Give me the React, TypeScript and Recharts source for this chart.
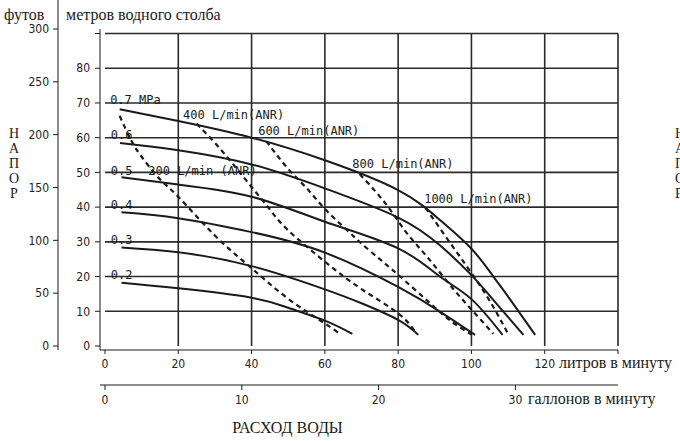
import { LineChart, Line, XAxis, YAxis, ReferenceLine, ReferenceDot } from "recharts";

// axes (L/min, US gal/min, metres of water, feet)
const litreTicks = [0, 20, 40, 60, 80, 100, 120, 140];
const gallonTicks = [0, 10, 20, 30];
const metreTicks = [0, 10, 20, 30, 40, 50, 60, 70, 80, 90];
const feetTicks = [0, 50, 100, 150, 200, 250, 300];
const gridMetres = [10, 20, 30, 40, 50, 60, 70, 80, 90];
const gridLitres = [20, 40, 60, 80, 100, 120, 140];

// constant air pressure curves [flow L/min, head m]
const p02 = [[4.5, 18.2], [20, 16.6], [40, 13.9], [50, 11.0], [60, 7.3], [67.5, 3.5]];
const p03 = [[4.5, 28.4], [20, 27.0], [40, 23.0], [60, 16.3], [70, 12.3], [80, 7.5], [85.5, 3.2]];
const p04 = [[4.5, 38.5], [20, 36.8], [40, 32.8], [60, 26.9], [80, 17.0], [91.4, 9.9], [101, 3.2]];
const p05 = [[4.5, 48.6], [20, 46.5], [40, 43.0], [60, 35.8], [80, 28.1], [91.4, 20.0], [100, 13.5], [108.5, 3.2]];
const p06 = [[4.1, 58.5], [20, 56.4], [40, 52.3], [60, 45.4], [80, 37.0], [91.4, 29.0], [100, 20.4], [107, 12.0], [114.2, 3.2]];
const p07 = [[4, 68.2], [20, 64.8], [40, 60.0], [60, 53.5], [80, 44.9], [91.4, 36.3], [100, 28.0], [106, 20.0], [110.5, 13.5], [117.4, 3.2]];

// constant air consumption curves (dashed)
const a200 = [[4, 66.3], [7, 59.5], [10, 54.5], [15, 48], [20, 43], [30, 31.8], [40, 22.4], [50, 13.6], [60, 6.5], [64, 3.5]];
const a400 = [[25, 64], [30, 58.5], [35, 52.3], [40, 45.8], [45, 39.3], [50, 33.3], [60, 24.3], [70, 16.4], [80, 9.4], [85, 3.6]];
const a600 = [[44, 59], [50, 51], [55, 45.5], [60, 39.5], [66, 33.4], [70, 29.5], [75, 25], [80, 20.5], [88, 13], [94, 7.5], [100, 3.3]];
const a800 = [[69.5, 49.5], [74, 44.3], [78, 39], [82, 33], [86, 28], [90, 23], [95, 16.5], [100, 10.5], [106, 3.5]];
const a1000 = [[87.5, 39.8], [90, 36], [95, 28.5], [100, 21], [105, 13], [110, 3.5]];

const pressureSeries = [p02, p03, p04, p05, p06, p07];
const airSeries = [a200, a400, a600, a800, a1000];

// in-plot captions [text, L/min, m at baseline]
const captions: [string, number, number][] = [
  ["0.7 MPa", 1.4, 69.6],
  ["0.6", 1.6, 59.6],
  ["0.5", 1.6, 49.2],
  ["0.4", 1.6, 39.6],
  ["0.3", 1.6, 29.4],
  ["0.2", 1.6, 19.3],
  ["200 L/min (ANR)", 11.8, 49.2],
  ["400 L/min(ANR)", 21.3, 65.5],
  ["600 L/min(ANR)", 41.8, 60.7],
  ["800 L/min(ANR)", 67.5, 51.4],
  ["1000 L/min(ANR)", 87.1, 41.2],
];

const napor = ["Н", "А", "П", "О", "Р"];

const toPts = (s: number[][]) => s.map(([x, y]) => ({ x, y }));

const tickFont = { fontSize: 12, fontFamily: "'DejaVu Sans Condensed', 'Liberation Sans Narrow', sans-serif", fill: "#222" };
const serif = "'Liberation Serif', 'DejaVu Serif', serif";
const ink = "#1a1a1a";

// axis ids sort so that "a_" sits next to the plot
const LX = "a_litres";
const GX = "b_gallons";
const MY = "a_metres";
const FY = "b_feet";

export default function App() {
  return (
    <div style={{ position: "fixed", left: 0, top: 0, width: 680, height: 441, overflow: "hidden", background: "#fff" }}>
      <LineChart width={680} height={441} margin={{ top: 29, right: 62, left: 16, bottom: 26 }}>
        <XAxis xAxisId={LX} type="number" dataKey="x" domain={[0, 140]} allowDataOverflow ticks={litreTicks} interval={0}
          tickFormatter={(v: number) => (v === 140 ? "" : String(v))} padding={{ left: 5, right: 0 }}
          height={35} tickSize={4} tickMargin={5} tick={tickFont} stroke={ink} />
        <XAxis xAxisId={GX} type="number" dataKey="x" domain={[0, 37.5]} allowDataOverflow ticks={gallonTicks} interval={0}
          padding={{ left: 5, right: 0 }} height={30} tickSize={5} tickMargin={5} tick={tickFont} stroke={ink} />
        <YAxis yAxisId={MY} type="number" domain={[0, 91.3]} allowDataOverflow ticks={metreTicks} interval={0}
          tickFormatter={(v: number) => (v === 90 ? "" : String(v))} padding={{ top: 0, bottom: 4 }}
          width={42} tickSize={5} tickMargin={5} tick={tickFont} stroke={ink} />
        <YAxis yAxisId={FY} type="number" domain={[0, 300]} allowDataOverflow ticks={feetTicks} interval={0}
          padding={{ top: 0, bottom: 4 }} width={42} tickSize={5} tickMargin={4} tick={tickFont} stroke={ink} />

        {gridMetres.map((m) => (
          <ReferenceLine key={"h" + m} xAxisId={LX} yAxisId={MY} segment={[{ x: 0, y: m }, { x: 140, y: m }]}
            stroke="#2a2a2a" strokeWidth={1.6} />
        ))}
        {gridLitres.map((l) => (
          <ReferenceLine key={"v" + l} xAxisId={LX} yAxisId={MY} segment={[{ x: l, y: 0 }, { x: l, y: 90 }]}
            stroke="#2a2a2a" strokeWidth={1.6} />
        ))}

        {airSeries.map((s, i) => (
          <Line key={"a" + i} xAxisId={LX} yAxisId={MY} data={toPts(s)} dataKey="y" type="natural"
            stroke={ink} strokeWidth={2.2} strokeDasharray="5 4" dot={false} isAnimationActive={false} />
        ))}
        {pressureSeries.map((s, i) => (
          <Line key={"p" + i} xAxisId={LX} yAxisId={MY} data={toPts(s)} dataKey="y" type="natural"
            stroke={ink} strokeWidth={2} dot={false} isAnimationActive={false} />
        ))}

        {captions.map(([t, x, y]) => (
          <ReferenceDot key={t} xAxisId={LX} yAxisId={MY} x={x} y={y} r={0} fill="none" stroke="none"
            label={(p: any) => (
              <text x={p.viewBox.x} y={p.viewBox.y} fontSize={12} fontFamily="'DejaVu Sans Mono', monospace" fill={ink}>
                {t}
              </text>
            )} />
        ))}
      </LineChart>

      <svg width={680} height={441} style={{ position: "absolute", left: 0, top: 0, pointerEvents: "none" }}>
        <line x1={58} y1={0} x2={58} y2={29} stroke={ink} strokeWidth={1} />
        <text x={4} y={20} fontSize={16} fontFamily={serif} fill={ink}>футов</text>
        <text x={66} y={20} fontSize={16} fontFamily={serif} fill={ink}>метров водного столба</text>
        {napor.map((c, i) => (
          <text key={"l" + i} x={14} y={138 + i * 15} fontSize={14} fontFamily={serif} fill={ink} textAnchor="middle">{c}</text>
        ))}
        {napor.map((c, i) => (
          <text key={"r" + i} x={675} y={138 + i * 15} fontSize={14} fontFamily={serif} fill={ink}>{c}</text>
        ))}
        <text x={559} y={368} fontSize={16} fontFamily={serif} fill={ink}>литров в минуту</text>
        <text x={528} y={404} fontSize={16} fontFamily={serif} fill={ink}>галлонов в минуту</text>
        <text x={287.5} y={433} fontSize={16} fontFamily={serif} fill={ink} textAnchor="middle">РАСХОД ВОДЫ</text>
      </svg>
    </div>
  );
}
